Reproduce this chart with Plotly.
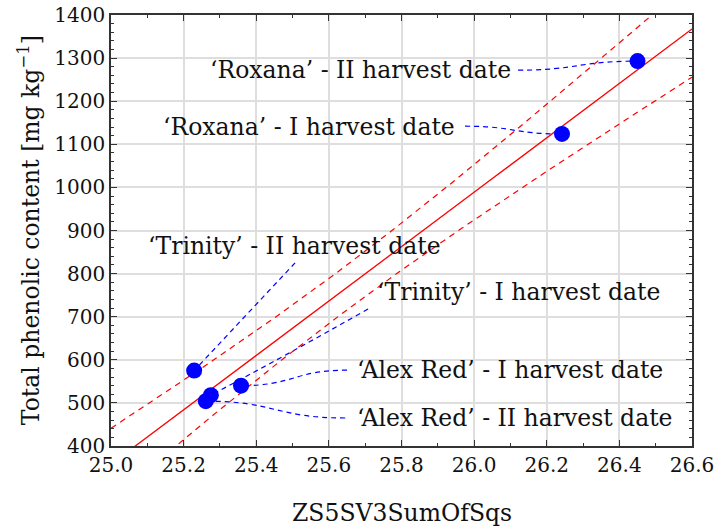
import numpy as np
import plotly.graph_objects as go

# ---- data ----
labels = ["‘Trinity’ - II harvest date", "‘Alex Red’ - II harvest date",
          "‘Trinity’ - I harvest date", "‘Alex Red’ - I harvest date",
          "‘Roxana’ - I harvest date", "‘Roxana’ - II harvest date"]
x_vals = [25.229, 25.261, 25.275, 25.358, 26.242, 26.450]
y_vals = [575, 504, 518, 540, 1124, 1293]
x_ticks = [25.0, 25.2, 25.4, 25.6, 25.8, 26.0, 26.2, 26.4, 26.6]
y_ticks = [400, 500, 600, 700, 800, 900, 1000, 1100, 1200, 1300, 1400]
t_crit = 2.776  # 95 %, 4 degrees of freedom

# ---- linear fit and 95% confidence band computed from the data ----
xa = np.array(x_vals)
ya = np.array(y_vals)
n = len(xa)
slope, intercept = np.polyfit(xa, ya, 1)
resid = ya - (slope * xa + intercept)
s = np.sqrt(np.sum(resid ** 2) / (n - 2))
sxx = np.sum((xa - xa.mean()) ** 2)
xg = np.linspace(x_ticks[0], x_ticks[-1], 200)
yfit = slope * xg + intercept
half = t_crit * s * np.sqrt(1.0 / n + (xg - xa.mean()) ** 2 / sxx)

FONT = "DejaVu Serif"
TXT = "#111111"
fig = go.Figure()
fig.add_trace(go.Scatter(x=xg, y=yfit, mode="lines",
                         line=dict(color="#ff0000", width=1.3), hoverinfo="skip"))
for sign in (1, -1):
    fig.add_trace(go.Scatter(x=xg, y=yfit + sign * half, mode="lines",
                             line=dict(color="#ff0000", width=1.2, dash="6px,5px"),
                             hoverinfo="skip"))

# label placement and leader start points (data coords)
label_pos = {
    0: dict(ax=25.096, ay=864, anchor="left", start=(25.507, 825), kind="L"),
    1: dict(ax=25.672, ay=465, anchor="left", start=(25.645, 465), kind="C"),
    2: dict(ax=25.727, ay=757, anchor="left", start=(25.708, 718), kind="Q"),
    3: dict(ax=25.672, ay=576, anchor="left", start=(25.650, 576), kind="C"),
    4: dict(ax=25.954, ay=1140, anchor="right", start=(25.975, 1142), kind="C"),
    5: dict(ax=26.107, ay=1272, anchor="right", start=(26.121, 1272), kind="C"),
}
shapes = []
for i, p in label_pos.items():
    x0, y0 = p["start"]
    x1, y1 = x_vals[i], y_vals[i]
    if p["kind"] == "L":
        path = f"M {x0},{y0} L {x1},{y1}"
    elif p["kind"] == "Q":
        path = f"M {x0},{y0} Q {x0 - 0.23},{y0 - 110} {x1},{y1}"
    else:
        xm = (x0 + x1) / 2
        path = f"M {x0},{y0} C {xm},{y0} {xm},{y1} {x1},{y1}"
    shapes.append(dict(type="path", path=path, xref="x", yref="y", layer="between",
                       line=dict(color="#0000ff", width=1.2, dash="5px,4px")))

fig.add_trace(go.Scatter(x=x_vals, y=y_vals, mode="markers",
                         marker=dict(color="#0000ff", size=16, line=dict(width=0)),
                         hoverinfo="skip"))

annotations = []
for i, p in label_pos.items():
    annotations.append(dict(x=p["ax"], y=p["ay"], xref="x", yref="y", text=labels[i],
                            showarrow=False, xanchor=p["anchor"], yanchor="middle",
                            font=dict(family=FONT, size=23.5, color=TXT)))

# axis titles as paper annotations for exact placement
annotations.append(dict(x=0.5, y=-0.155, xref="paper", yref="paper", text="ZS5SV3SumOfSqs",
                        showarrow=False, xanchor="center", yanchor="middle",
                        font=dict(family=FONT, size=23.5, color=TXT)))
annotations.append(dict(x=-0.14, y=0.5, xref="paper", yref="paper",
                        text="Total phenolic content [mg kg<sup>−1</sup>]",
                        showarrow=False, xanchor="center", yanchor="middle", textangle=-90,
                        font=dict(family=FONT, size=23.5, color=TXT)))

axis_common = dict(showgrid=True, gridcolor="#dedede", gridwidth=1.5,
                   showline=True, linecolor="#333333", linewidth=1.5,
                   mirror="ticks", ticks="inside", ticklen=6, tickwidth=1.2,
                   tickcolor="#333333", zeroline=False, automargin=False,
                   tickfont=dict(family=FONT, size=20, color=TXT))

fig.update_layout(
    width=717, height=529,
    margin=dict(l=111, r=25, t=15, b=83),
    paper_bgcolor="white", plot_bgcolor="white",
    showlegend=False,
    shapes=shapes, annotations=annotations,
    xaxis=dict(range=[x_ticks[0], x_ticks[-1]], tickvals=x_ticks,
               ticktext=[f"{v:.1f}" for v in x_ticks],
               minor=dict(dtick=0.1, ticks="inside", ticklen=3, tickcolor="#333333", showgrid=False),
               **axis_common),
    yaxis=dict(range=[y_ticks[0], y_ticks[-1]], tickvals=y_ticks,
               minor=dict(dtick=20, ticks="inside", ticklen=3, tickcolor="#333333", showgrid=False),
               **axis_common),
)

fig.write_html("out.html", config={"displayModeBar": False},
               post_script="document.body.style.margin='0';document.body.style.overflow='hidden';")
